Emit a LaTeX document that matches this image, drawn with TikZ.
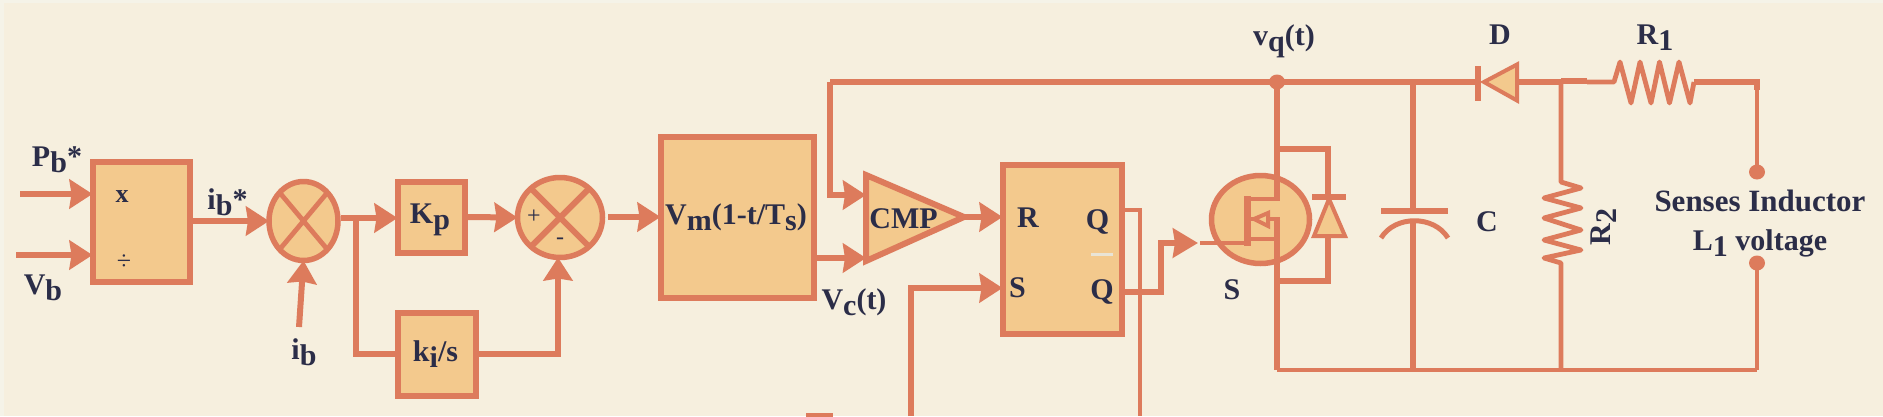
\documentclass[tikz,border=0pt]{standalone}
\usepackage{fontspec}
\setmainfont{Liberation Serif}
\usetikzlibrary{arrows.meta,shapes.geometric,calc}
\definecolor{bgc}{HTML}{F6EFDE}
\definecolor{edgec}{HTML}{F5F3E8}
\definecolor{wirec}{HTML}{DD7B5C}
\definecolor{fillc}{HTML}{F3C98D}
\definecolor{txtc}{HTML}{2B2D48}
\definecolor{barc}{HTML}{E9E4D6}
\newcommand{\sbs}[2]{#1\raisebox{-0.2em}{#2}}
\tikzset{
  x=1pt,y=-1pt,
  wire/.style={draw=wirec,line width=6pt,line join=miter},
  thinwire/.style={draw=wirec,line width=4.8pt,line join=miter},
  zig/.style={draw=wirec,line width=4.8pt,line join=round},
  arr/.style={wire,-{Stealth[length=23pt,width=29pt,inset=2pt,fill=wirec]}},
  blk/.style={draw=wirec,fill=fillc,line width=6pt,rectangle,inner sep=0pt,outer sep=0pt},
  sumc/.style={draw=wirec,fill=fillc,line width=5.5pt,ellipse,inner sep=0pt,outer sep=0pt},
  lab/.style={text=txtc,font=\fontsize{30}{32}\selectfont\bfseries,inner sep=0pt,outer sep=0pt},
  dotn/.style={fill=wirec,draw=none,ellipse,inner sep=0pt,minimum width=16pt,minimum height=15pt},
  part/.style={draw=wirec,fill=fillc,line width=4pt,line join=miter},
}
\begin{document}
\begin{tikzpicture}
\useasboundingbox (0,0) rectangle (1883,416);
\fill[edgec] (0,0) rectangle (1883,416);
\fill[bgc] (4,3) rectangle (1883,416);

% blocks
\node[blk,minimum width=97pt,minimum height=120pt] (mul) at (141,221.5) {};
\node[sumc,minimum width=69pt,minimum height=79pt] (s1) at (303.5,221) {};
\node[blk,minimum width=67pt,minimum height=71pt] (kp) at (431,217) {};
\node[blk,minimum width=78pt,minimum height=83pt] (ki) at (436.5,354) {};
\node[sumc,minimum width=85pt,minimum height=80pt] (s2) at (560,217.5) {};
\node[blk,minimum width=153pt,minimum height=161pt] (vm) at (737,217) {};
\node[blk,minimum width=119pt,minimum height=169pt] (sr) at (1062,249) {};
\path[draw=wirec,fill=fillc,line width=6pt,line join=miter] (866,175) -- (964,217) -- (866,261) -- cycle;
\coordinate (cmpin1) at (866,195);
\coordinate (cmpin2) at (866,258);
\coordinate (cmpout) at (964,217);

% cross lines of the summing points
\draw[thinwire] (s1.50) -- (s1.230) (s1.130) -- (s1.310);
\draw[wire] (s2.45) -- (s2.225) (s2.135) -- (s2.315);

% left side connectors
\coordinate (pbs) at (20,194);
\coordinate (vbs) at (16,255);
\coordinate (ibs) at (299,327);
\coordinate (s1o) at (341,218);
\coordinate (brn) at (356,218);
\coordinate (brd) at (356,354);
\coordinate (s2u) at (558,354);
\coordinate (s2o) at (608,217);
\draw[arr] (pbs) -- (pbs -| mul.west);
\draw[arr] (vbs) -- (vbs -| mul.west);
\draw[arr] (mul.east |- s1.west) -- (s1.west);
\draw[arr] (ibs) -- (s1.south);
\draw[arr] (s1o) -- (s1o -| kp.west);
\draw[wire] (brn) -- (brd) -- (brd -| ki.west);
\draw[arr] (kp.east) -- (s2.west);
\draw[arr] (ki.east |- s2u) -- (s2u) -- (s2u |- s2.south);
\draw[arr] (s2o) -- (s2o -| vm.west);

% comparator
\coordinate (fb) at (830,82);
\coordinate (fbd) at (830,195);
\draw[arr] (fb) -- (fbd) -- (cmpin1);
\draw[arr] (vm.east |- cmpin2) -- (cmpin2);
\draw[arr] (cmpout) -- (cmpout -| sr.west);

% latch
\coordinate (setb) at (911,416);
\coordinate (seti) at (911,288);
\coordinate (qo) at (1124,210);
\coordinate (qd) at (1140,210);
\coordinate (qb) at (1140,416);
\coordinate (nqo) at (1124,292);
\coordinate (n1) at (1161,292);
\coordinate (n2) at (1161,243);
\coordinate (gtip) at (1198,243);
\draw[arr] (setb) -- (seti) -- (seti -| sr.west);
\draw[thinwire] (qo) -- (qd) -- (qb);
\draw[wire] (nqo) -- (n1) -- (n2) -- (1175,243);
\draw[wire,-{Stealth[length=25pt,width=29pt,inset=2pt,fill=wirec]}] (n2) -- (gtip);
\draw[wirec,line width=5pt] (806,415) -- (833,415);

% MOSFET
\node[sumc,minimum width=98pt,minimum height=88pt] (sw) at (1260.5,219.5) {};
\coordinate (drn) at (1277,82);
\coordinate (srcb) at (1277,370);
\draw[thinwire] (1200,243) -- (1247,243);
\draw[draw=wirec,line width=7pt] (1247,196) -- (1247,246);
\draw[thinwire] (1247,199) -- (1277,199);
\draw[thinwire] (1247,239) -- (1277,239);
\draw[thinwire] (1247,219) -- (1279,219);
\draw[wire] (drn) -- (1277,201);
\draw[wire] (srcb) -- (1277,217);
\path[draw=wirec,fill=fillc,line width=4pt] (1254,219) -- (1268,213) -- (1268,226) -- cycle;
% body diode
\coordinate (bdt) at (1328,149);
\coordinate (bdb) at (1328,281);
\draw[wire] (1277,149) -- (bdt) -- (1328,197);
\draw[wire] (1328,238) -- (bdb) -- (1277,281);
\path[part] (1329,199) -- (1345,236) -- (1314,236) -- cycle;
\draw[wire] (1312,197) -- (1346,197);

% rails
\coordinate (rr) at (1757,82);
\coordinate (nr2) at (1561,82);
\coordinate (nc) at (1413,82);
\coordinate (bc) at (1413,370);
\coordinate (br2) at (1561,370);
\coordinate (br) at (1757,370);
\draw[wire] (fb) -- (1481,82);
\node[dotn] (vqd) at (drn) {};
\path[part] (1517,64.5) -- (1517,100.5) -- (1484,82) -- cycle;
\draw[wire] (1478,66) -- (1478,101);
\draw[wire] (1519,82) -- (1561,82);
\draw[wire] (nr2 |- 0,81) -- (1587,81);
\draw[thinwire] (srcb) -- (br);

% capacitor
\draw[wire] (nc) -- (1413,211);
\draw[wirec,line width=6pt] (1381,211) -- (1448,211);
\draw[wirec,line width=5pt] (1381,238) .. controls (1395,215) and (1434,215) .. (1448,238);
\draw[wire] (1413,221) -- (bc);

% R2
\draw[zig] (nr2) -- (1561,182) -- (1581,188) -- (1544,198) -- (1581,208) -- (1544,218) -- (1581,230) -- (1544,240) -- (1581,250) -- (1544,258) -- (1561,263) -- (br2);

% R1
\draw[zig] (1587,82) -- (1614,82) -- (1620,62) -- (1631,103) -- (1640,62) -- (1651,103) -- (1659.5,62) -- (1669.5,103) -- (1679,62) -- (1690,103) -- (1694,82);
\draw[wire] (1694,82) -- (rr) -- (1757,90);
\node[dotn] (top) at (1757,172) {};
\node[dotn] (bot) at (1757,263) {};
\draw[thinwire] (rr) -- (top.center);
\draw[thinwire] (bot.center) -- (br);

% labels
\node[lab] (t1) at (57,159.5) {\sbs{P}{b}*};
\node[lab] (t2) at (43,287.5) {\sbs{V}{b}};
\node[lab,font=\fontsize{26}{28}\selectfont\bfseries] (t3) at (122,197) {x};
\node[lab,font=\fontsize{26}{28}\selectfont] (t4) at (124,262) {÷};
\node[lab] (t5) at (227.5,202) {\sbs{i}{b}*};
\node[lab] (t6) at (304,352) {\sbs{i}{b}};
\node[lab] (t7) at (430,220) {\sbs{K}{p}};
\node[lab] (t8) at (435.5,354) {\sbs{k}{i}/s};
\node[lab,font=\fontsize{24}{26}\selectfont] (t9) at (534,217) {+};
\node[lab,font=\fontsize{24}{26}\selectfont] (t10) at (560,241) {-};
\node[lab] (t11) at (736,217) {\sbs{V}{m}(1-t/\sbs{T}{s})};
\node[lab] (t12) at (854,302) {\sbs{V}{c}(t)};
\node[lab] (t13) at (903.5,219) {CMP};
\node[lab] (t14) at (1028,217.5) {R};
\node[lab] (t15) at (1017.5,287.5) {S};
\node[lab] (t16) at (1097.5,222) {Q};
\node[lab] (t17) at (1102,292) {Q};
\fill[barc] (1091,253) rectangle (1113,256);
\node[lab] (t18) at (1232,290) {S};
\node[lab] (t19) at (1284,41) {\sbs{v}{q}(t)};
\node[lab] (t20) at (1500,35) {D};
\node[lab] (t21) at (1655,38) {\sbs{R}{1}};
\node[lab] (t22) at (1487,222) {C};
\node[lab,rotate=90] (t23) at (1604,227) {\sbs{R}{2}};
\node[lab,font=\fontsize{31}{33}\selectfont\bfseries] (t24) at (1760,201) {Senses Inductor};
\node[lab] (t25) at (1760,243) {\sbs{L}{1} voltage};
\end{tikzpicture}
\end{document}
